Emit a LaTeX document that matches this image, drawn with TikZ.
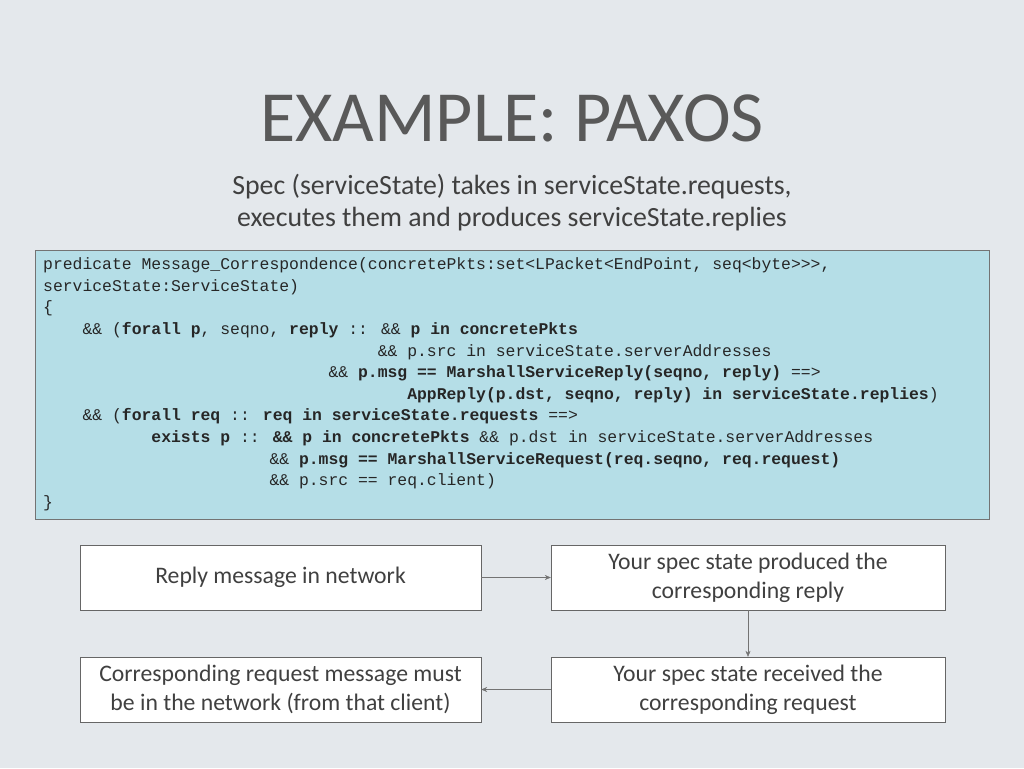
\documentclass[tikz,border=0pt]{standalone}
\usepackage{fontspec}
\setmainfont{Carlito}
\newfontfamily\codefont{Liberation Mono}
\usetikzlibrary{arrows.meta}
\definecolor{bg}{HTML}{E4E8EC}
\definecolor{codebg}{HTML}{B5DEE7}
\definecolor{txt}{HTML}{404040}
\definecolor{title}{HTML}{595959}
\begin{document}
\begin{tikzpicture}[x=1pt,y=-1pt,
  cl/.style={anchor=west,inner sep=0pt,font=\codefont\fontsize{16.4}{18}\selectfont,text=black!85},
  flow/.style={draw=black!60,fill=white,minimum width=401pt,minimum height=65pt,align=center,font=\fontsize{23.7}{29}\selectfont,text=txt,inner sep=2pt},
  conn/.style={draw=black!55,-{Stealth[length=6pt,width=5pt]}}]
\fill[bg] (0,0) rectangle (1024,768);
\useasboundingbox (0,0) rectangle (1024,768);
\node[text=title,font=\fontsize{72}{80}\selectfont] (t) at (512,118) {EXAMPLE: PAXOS};
\node[text=txt,align=center,font=\fontsize{27.8}{32}\selectfont] (sub) at (512,203) {Spec (serviceState) takes in serviceState.requests,\\executes them and produces serviceState.replies};
\node[draw=black!55,fill=codebg,minimum width=954pt,minimum height=269pt,inner sep=0pt] (code) at (512,384.5) {};
\def\cw{9.84}
\node[cl] (l1) at (43,265) {predicate Message\_Correspondence(concretePkts:set<LPacket<EndPoint, seq<byte>{}>{}>,};
\node[cl] (l2) at (43,287) {serviceState:ServiceState)};
\node[cl] (l3) at (43,308) {\{};
\node[cl] (l4) at (43+4*\cw,330) {\&\& (\textbf{forall p}, seqno, \textbf{reply} :: \&\& \textbf{p in concretePkts}};
\node[cl] (l5) at (43+34*\cw,352) {\&\& p.src in serviceState.serverAddresses};
\node[cl] (l6) at (43+29*\cw,373) {\&\& \textbf{p.msg == MarshallServiceReply(seqno, reply)} ==>};
\node[cl] (l7) at (43+37*\cw,395) {\textbf{AppReply(p.dst, seqno, reply) in serviceState.replies})};
\node[cl] (l8) at (43+4*\cw,416) {\&\& (\textbf{forall req} :: \textbf{req in serviceState.requests} ==>};
\node[cl] (l9) at (43+11*\cw,438) {\textbf{exists p} :: \textbf{\&\& p in concretePkts} \&\& p.dst in serviceState.serverAddresses};
\node[cl] (l10) at (43+23*\cw,460) {\&\& \textbf{p.msg == MarshallServiceRequest(req.seqno, req.request)}};
\node[cl] (l11) at (43+23*\cw,481) {\&\& p.src == req.client)};
\node[cl] (l12) at (43,503) {\}};
\node[flow] (a) at (280.5,577.5) {Reply message in network};
\node[flow,minimum width=394pt] (b) at (748,577.5) {Your spec state produced the\\corresponding reply};
\node[flow,minimum width=394pt] (c) at (748,689.5) {Your spec state received the\\corresponding request};
\node[flow] (d) at (280.5,689.5) {Corresponding request message must\\be in the network (from that client)};
\draw[conn] (a) -- (b);
\draw[conn] (b) -- (c);
\draw[conn] (c) -- (d);
\end{tikzpicture}
\end{document}
